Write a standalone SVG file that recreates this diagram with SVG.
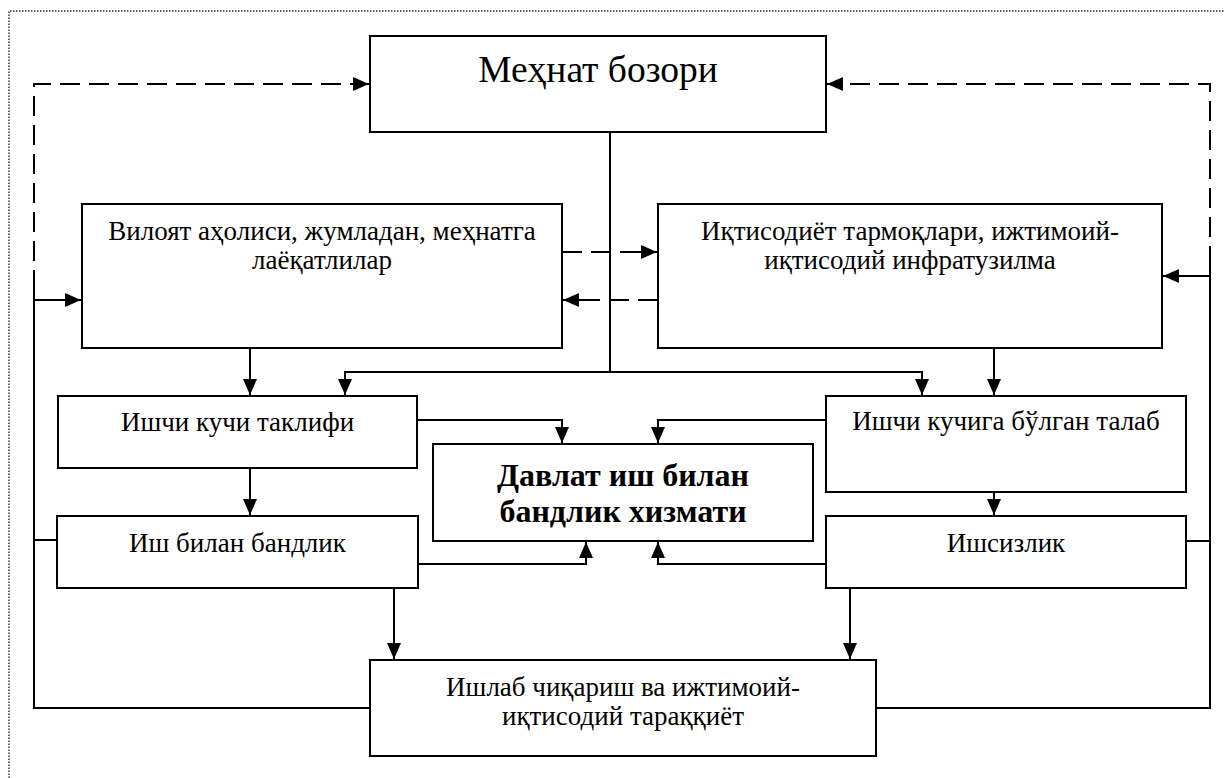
<svg xmlns="http://www.w3.org/2000/svg" width="1225" height="778" viewBox="0 0 1225 778">
<defs>
<style>
text{font-family:'Liberation Serif','Times New Roman','DejaVu Serif',serif;fill:#000;text-anchor:middle}
.box{fill:#fff;stroke:#000;stroke-width:2}
.t{font-size:27px}
.tb{font-size:32px;font-weight:bold}
.big{font-size:37.5px}
.c{fill:none;stroke:#000;stroke-width:2}
.d{fill:none;stroke:#000;stroke-width:2;stroke-dasharray:20 9}
</style>
<marker id="ah" markerUnits="userSpaceOnUse" markerWidth="17" markerHeight="16" viewBox="0 0 17 16" refX="16" refY="8" orient="auto">
<path d="M0,1 L16,8 L0,15 Z" fill="#000"/>
</marker>
</defs>
<rect width="1225" height="778" fill="#fff"/>
<path d="M9,778 V11 H1225" fill="none" stroke="#333" stroke-width="1.5" stroke-dasharray="1.5 1.5"/>

<g id="connectors">
<path class="d" d="M34,290 V84 H355"/>
<path class="c" d="M355,84 H369" marker-end="url(#ah)"/>
<path class="d" d="M1210,266 V84 H841"/>
<path class="c" d="M841,84 H827" marker-end="url(#ah)"/>
<path class="d" d="M562,252 H644"/>
<path class="c" d="M640,252 H657" marker-end="url(#ah)"/>
<path class="d" d="M658,300 H577"/>
<path class="c" d="M580,300 H563" marker-end="url(#ah)"/>
<path class="c" d="M370,708 H34 V290"/>
<path class="c" d="M34,300 H81" marker-end="url(#ah)"/>
<path class="c" d="M34,540 H57"/>
<path class="c" d="M876,708 H1210 V266"/>
<path class="c" d="M1210,276 H1163" marker-end="url(#ah)"/>
<path class="c" d="M1186,541 H1210"/>
<path class="c" d="M610,132 V372"/>
<path class="c" d="M610,372 H345 V395" marker-end="url(#ah)"/>
<path class="c" d="M610,372 H922 V395" marker-end="url(#ah)"/>
<path class="c" d="M250,348 V395" marker-end="url(#ah)"/>
<path class="c" d="M994,348 V395" marker-end="url(#ah)"/>
<path class="c" d="M250,468 V515" marker-end="url(#ah)"/>
<path class="c" d="M994,492 V515" marker-end="url(#ah)"/>
<path class="c" d="M394,588 V659" marker-end="url(#ah)"/>
<path class="c" d="M850,588 V659" marker-end="url(#ah)"/>
<path class="c" d="M417,420 H562 V443" marker-end="url(#ah)"/>
<path class="c" d="M826,420 H658 V443" marker-end="url(#ah)"/>
<path class="c" d="M418,564 H586 V542" marker-end="url(#ah)"/>
<path class="c" d="M826,564 H658 V542" marker-end="url(#ah)"/>
</g>

<g id="mehnat-bozori">
<rect class="box" x="370" y="36" width="456" height="96"/>
<text class="big" x="598" y="82">Меҳнат бозори</text>
</g>
<g id="viloyat-aholisi">
<rect class="box" x="82" y="204" width="480" height="144"/>
<text class="t" x="322" y="240">Вилоят аҳолиси, жумладан, меҳнатга</text>
<text class="t" x="322" y="269">лаёқатлилар</text>
</g>
<g id="iqtisodiyot">
<rect class="box" x="658" y="204" width="504" height="144"/>
<text class="t" x="910" y="240">Иқтисодиёт тармоқлари, ижтимоий-</text>
<text class="t" x="910" y="269">иқтисодий инфратузилма</text>
</g>
<g id="ishchi-kuchi-taklifi">
<rect class="box" x="58" y="396" width="359" height="72"/>
<text class="t" x="237.5" y="431">Ишчи кучи таклифи</text>
</g>
<g id="ishchi-kuchiga-talab">
<rect class="box" x="826" y="396" width="360" height="96"/>
<text class="t" x="1006" y="430">Ишчи кучига бўлган талаб</text>
</g>
<g id="davlat-xizmati">
<rect class="box" x="433" y="444" width="380" height="97"/>
<text class="tb" x="623" y="486">Давлат иш билан</text>
<text class="tb" x="623" y="522">бандлик хизмати</text>
</g>
<g id="ish-bilan-bandlik">
<rect class="box" x="57" y="516" width="361" height="72"/>
<text class="t" x="237.5" y="552">Иш билан бандлик</text>
</g>
<g id="ishsizlik">
<rect class="box" x="826" y="516" width="360" height="72"/>
<text class="t" x="1006" y="552">Ишсизлик</text>
</g>
<g id="ishlab-chiqarish">
<rect class="box" x="370" y="660" width="506" height="96"/>
<text class="t" x="623" y="696">Ишлаб чиқариш ва ижтимоий-</text>
<text class="t" x="623" y="725">иқтисодий тараққиёт</text>
</g>
</svg>
